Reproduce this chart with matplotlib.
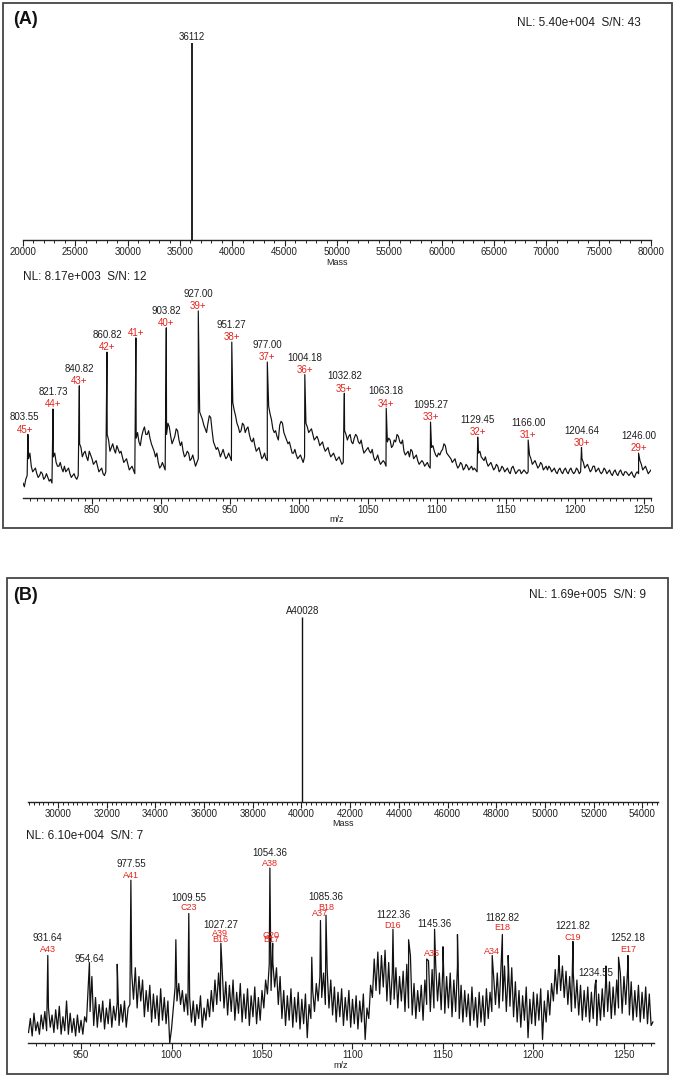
import numpy as np
import matplotlib
matplotlib.use("Agg")
import matplotlib.pyplot as plt
from matplotlib.patches import Rectangle
from matplotlib.ticker import FixedLocator, FuncFormatter
from matplotlib import transforms, font_manager

# ---------------- data ----------------
# Panel A, deconvoluted mass spectrum
a_mass_peak = [36112]
a_mass_int = [100]
a_mass_text = ["36112"]

# Panel A, m/z spectrum: charge-state series
a_peak_mz = [803.55, 821.73, 840.82, 860.82, 881.79, 903.82, 927.00, 951.27, 977.00,
             1004.18, 1032.82, 1063.18, 1095.27, 1129.45, 1166.00, 1204.64, 1246.00]
a_peak_int = [34, 47.6, 60, 78, 85.6, 91, 100, 83.4, 72.7, 66, 56, 48, 40.6, 32.6, 31, 27, 24]
a_peak_text = ["803.55", "821.73", "840.82", "860.82", "", "903.82", "927.00", "951.27", "977.00",
               "1004.18", "1032.82", "1063.18", "1095.27", "1129.45", "1166.00", "1204.64", "1246.00"]
a_charge_text = ["45+", "44+", "43+", "42+", "41+", "40+", "39+", "38+", "37+", "36+", "35+",
                 "34+", "33+", "32+", "31+", "30+", "29+"]

# Panel A, m/z trace between peaks, even m/z (800, 802, ...)
a_base_mz = np.arange(800, 1256, 2)
a_base_int = [
    8, 10, 21, 17, 15, 13, 12, 13, 11, 11,
    10, 22, 19, 17, 16, 17, 15, 13, 12, 11,
    12, 27, 24, 22, 25, 21, 19, 17, 15, 13,
    14, 31, 27, 26, 28, 24, 22, 20, 18, 16,
    15, 32, 30, 33, 38, 34, 32, 27, 22, 19,
    17, 17, 34, 38, 29, 33, 36, 28, 25, 23,
    24, 21, 20, 19, 46, 42, 37, 40, 43, 30,
    26, 25, 24, 23, 22, 22, 51, 44, 38, 36,
    39, 37, 34, 30, 28, 26, 24, 22, 21, 49,
    42, 35, 33, 39, 40, 33, 29, 27, 24, 23,
    22, 21, 22, 38, 36, 34, 32, 31, 29, 27,
    26, 24, 23, 22, 21, 20, 19, 34, 33, 30,
    32, 33, 29, 27, 25, 27, 24, 22, 21, 20,
    19, 19, 30, 31, 28, 30, 33, 29, 25, 24,
    22, 25, 22, 20, 19, 19, 18, 17, 27, 25,
    22, 23, 26, 28, 23, 21, 20, 18, 17, 18,
    16, 17, 16, 15, 15, 24, 22, 20, 19, 18,
    17, 16, 17, 15, 16, 15, 14, 16, 15, 14,
    15, 14, 14, 14, 21, 19, 18, 17, 18, 16,
    15, 16, 15, 14, 15, 14, 15, 14, 15, 14,
    14, 15, 14, 19, 17, 16, 15, 17, 15, 14,
    14, 15, 14, 13, 14, 13, 14, 13, 14, 13,
    13, 12, 13, 13, 18, 16, 15, 14]
# Panel A, m/z trace, odd m/z (801, 803, ...)
a_mid_mz = np.arange(801, 1257, 2)
a_mid_int = [
    6, 12, 24, 14, 16, 11, 14, 10, 13, 9,
    8, 24, 17, 19, 14, 14, 16, 11, 13, 10,
    29, 22, 25, 20, 23, 18, 20, 14, 16, 12,
    34, 25, 29, 24, 26, 25, 19, 21, 15, 17,
    13, 35, 28, 36, 34, 36, 29, 25, 24, 16,
    19, 15, 40, 33, 31, 37, 31, 30, 22, 25,
    20, 23, 17, 21, 44, 39, 35, 44, 36, 28,
    27, 22, 26, 21, 24, 20, 47, 40, 35, 40,
    35, 38, 31, 32, 25, 27, 21, 24, 20, 45,
    37, 36, 31, 41, 35, 31, 30, 24, 26, 21,
    23, 19, 40, 35, 37, 31, 33, 28, 30, 25,
    27, 22, 24, 20, 22, 18, 36, 31, 34, 29,
    34, 30, 31, 24, 26, 25, 26, 20, 23, 18,
    20, 17, 32, 27, 31, 34, 30, 31, 23, 25,
    26, 21, 23, 18, 20, 17, 19, 16, 28, 23,
    24, 25, 29, 24, 22, 19, 21, 16, 19, 15,
    18, 15, 17, 16, 14, 25, 21, 22, 17, 19,
    15, 18, 14, 17, 14, 16, 13, 17, 13, 15,
    13, 15, 13, 23, 18, 20, 16, 19, 15, 17,
    17, 14, 16, 13, 16, 13, 16, 13, 16, 13,
    16, 13, 21, 16, 18, 14, 17, 14, 16, 13,
    16, 13, 15, 12, 15, 12, 15, 12, 14, 12,
    14, 11, 14, 20, 15, 17, 13, 15]

# Panel B, deconvoluted mass spectrum
b_mass_peak = [40028]
b_mass_int = [100]
b_mass_text = ["A40028"]

# Panel B, m/z spectrum peaks
b_peak_mz = [931.64, 954.64, 970.0, 977.55, 1002.4, 1009.55, 1027.27, 1054.36, 1055.9,
             1077.5, 1082.3, 1085.36, 1122.36, 1131.0, 1141.0, 1145.36, 1150.0, 1158.0,
             1177.2, 1182.82, 1186.0, 1214.0, 1221.82, 1234.55, 1240.0, 1247.0, 1252.18]
b_peak_int = [50, 46, 45, 93, 59, 74, 57, 100, 57,
              49, 70, 73, 65, 59, 48, 65, 55, 62,
              50, 62, 50, 50, 58, 36, 44, 49, 50]

# Panel B, noisy trace: low / high values per 2 m/z (lows at 921,923,..., highs at 922,924,...)
b_noise_lo = [
    6, 4, 7, 5, 8, 7, 9, 6, 8, 5,
    7, 5, 6, 4, 6, 5, 12, 18, 10, 9,
    12, 8, 11, 9, 13, 10, 12, 9, 22, 25,
    20, 24, 15, 18, 12, 14, 10, 13, 11, 0,
    20, 24, 22, 18, 16, 12, 10, 14, 9, 13,
    15, 18, 22, 24, 20, 16, 18, 13, 17, 12,
    14, 10, 15, 11, 13, 20, 28, 30, 32, 22,
    14, 10, 13, 9, 12, 8, 11, 3, 14, 18,
    24, 26, 22, 20, 16, 12, 15, 10, 13, 9,
    11, 8, 12, 2, 14, 26, 30, 28, 32, 24,
    22, 25, 20, 24, 18, 20, 16, 14, 18, 13,
    22, 18, 20, 24, 19, 17, 20, 15, 18, 14,
    12, 15, 10, 13, 9, 12, 10, 14, 18, 22,
    20, 24, 18, 21, 15, 12, 9, 13, 3, 11,
    10, 13, 2, 12, 16, 24, 28, 30, 26, 22,
    18, 20, 16, 13, 15, 12, 14, 10, 13, 15,
    18, 14, 16, 20, 17, 22, 16, 13, 15, 12,
    14, 11, 10]
b_noise_hi = [
    14, 17, 12, 16, 18, 20, 16, 19, 21, 15,
    24, 17, 14, 16, 13, 15, 33, 38, 26, 22,
    24, 20, 25, 21, 23, 22, 24, 20, 40, 43,
    38, 36, 30, 33, 28, 27, 31, 26, 24, 8,
    32, 34, 30, 28, 26, 24, 22, 27, 20, 25,
    30, 36, 40, 42, 35, 33, 36, 29, 34, 28,
    31, 27, 32, 26, 30, 36, 45, 46, 43, 38,
    30, 27, 31, 26, 29, 25, 28, 22, 30, 34,
    38, 40, 42, 36, 32, 29, 31, 26, 30, 25,
    27, 24, 28, 20, 33, 48, 52, 50, 53, 46,
    40, 43, 38, 41, 45, 50, 34, 30, 33, 36,
    47, 42, 44, 40, 45, 38, 40, 36, 44, 33,
    30, 28, 32, 26, 29, 27, 31, 29, 38, 40,
    42, 44, 40, 43, 35, 30, 27, 32, 25, 29,
    28, 31, 24, 30, 34, 42, 46, 44, 41, 38,
    40, 36, 33, 30, 32, 29, 33, 28, 31, 38,
    35, 32, 36, 40, 38, 42, 35, 30, 33, 29,
    32, 28, 12]

b_num_text = ["931.64", "954.64", "977.55", "1009.55", "1027.27", "1054.36", "1085.36",
              "1122.36", "1145.36", "1182.82", "1221.82", "1234.55", "1252.18"]
b_num_mz = [931.64, 954.64, 977.55, 1009.55, 1027.27, 1054.36, 1085.36,
            1122.36, 1145.36, 1182.82, 1221.82, 1234.55, 1252.18]
b_ion_text = ["A43", "A41", "C23", "A39", "B16", "A38", "G20", "B17", "A37", "B18",
              "D16", "A35", "A34", "E18", "C19", "E17"]
b_ion_mz = [931.64, 977.55, 1009.55, 1026.8, 1026.8, 1054.36, 1055.1, 1055.1, 1082.3,
            1085.36, 1122.36, 1143.7, 1177.2, 1182.82, 1221.82, 1252.18]

nl_texts = ["NL: 5.40e+004  S/N: 43", "NL: 8.17e+003  S/N: 12",
            "NL: 1.69e+005  S/N: 9", "NL: 6.10e+004  S/N: 7"]

# ---------------- layout (pixels) ----------------
W, H = 677, 1077
b_num_ypx = [938, 959, 864, 898, 925, 853, 897, 915, 924, 918, 926, 973, 938]
b_ion_ypx = [950, 876, 908, 934, 939, 863, 935, 939, 914, 907, 925, 953, 951, 928, 937, 950]

RED = "#e3241c"
TXT = "#1e1e1e"

names = {f.name for f in font_manager.fontManager.ttflist}
NARROW = "Liberation Sans Narrow" if "Liberation Sans Narrow" in names else "Liberation Sans"
plt.rcParams["font.family"] = ["Liberation Sans", "DejaVu Sans"]

fig = plt.figure(figsize=(W / 100, H / 100), dpi=100)


def add_ax(l, t, r, b):
    return fig.add_axes([l / W, 1 - b / H, (r - l) / W, (b - t) / H])


def style(ax, major, minor, fs, family):
    for s in ["left", "top", "right"]:
        ax.spines[s].set_visible(False)
    ax.spines["bottom"].set_linewidth(1.0)
    ax.spines["bottom"].set_color("#222222")
    ax.set_yticks([])
    ax.xaxis.set_major_locator(FixedLocator(major))
    ax.xaxis.set_minor_locator(FixedLocator(minor))
    ax.xaxis.set_major_formatter(FuncFormatter(lambda v, p: f"{v:.0f}"))
    ax.tick_params(axis="x", which="major", direction="out", length=4.3, width=0.8,
                   pad=1.0, labelsize=fs, colors="#222222")
    ax.tick_params(axis="x", which="minor", direction="out", length=2.4, width=0.7,
                   colors="#222222")
    for lab in ax.get_xticklabels():
        lab.set_family(family)
    ax.patch.set_alpha(0)


def fig_text(x, y, s, **kw):
    fig.text(x / W, 1 - y / H, s, **kw)


# panel boxes
fig.add_artist(Rectangle((3 / W, 1 - 528 / H), 669 / W, 525 / H, transform=fig.transFigure,
                         fill=False, ec="#444444", lw=1.3))
fig.add_artist(Rectangle((7 / W, 1 - 1074 / H), 661 / W, 496 / H, transform=fig.transFigure,
                         fill=False, ec="#444444", lw=1.3))

# ---- A top: mass ----
ax1 = add_ax(23, 30, 651, 240)
ax1.set_xlim(20000, 80000)
ax1.set_ylim(0, 100 * 210 / 197)
ax1.vlines(a_mass_peak, 0, a_mass_int, color="#111111", lw=1.3)
for m, h, t in zip(a_mass_peak, a_mass_int, a_mass_text):
    ax1.annotate(t, (m, h), xytext=(0, 4.3), textcoords="offset points", ha="center",
                 va="center", fontsize=7, color=TXT)
style(ax1, list(range(20000, 80001, 5000)), list(range(20000, 80001, 1000)), 7, NARROW)

# ---- A bottom: m/z ----
ax2 = add_ax(23, 300, 651, 498)
ax2.set_xlim(800, 1255)
ax2.set_ylim(0, 100 * 198 / 187)
x = np.concatenate([a_base_mz, a_mid_mz, a_peak_mz])
y = np.concatenate([a_base_int, a_mid_int, a_peak_int])
o = np.argsort(x, kind="stable")
ax2.plot(x[o], y[o], color="#111111", lw=0.85)
for m, h, t, c in zip(a_peak_mz, a_peak_int, a_peak_text, a_charge_text):
    dx = -2.2 if m < 805 else 0
    if t:
        ax2.annotate(t, (m, h), xytext=(dx, 12.2), textcoords="offset points", ha="center",
                     va="center", fontsize=7, color=TXT)
    ax2.annotate(c, (m, h), xytext=(dx, 3.4), textcoords="offset points", ha="center",
                 va="center", fontsize=7, color=RED)
style(ax2, list(range(850, 1251, 50)), list(range(805, 1256, 5)), 7, "Liberation Sans")

# ---- B top: mass ----
ax3 = add_ax(28, 600, 658, 802)
ax3.set_xlim(28768, 54641)
ax3.set_ylim(0, 100 * 202 / 185)
ax3.vlines(b_mass_peak, 0, b_mass_int, color="#111111", lw=1.0)
for m, h, t in zip(b_mass_peak, b_mass_int, b_mass_text):
    ax3.annotate(t, (m, h), xytext=(0, 4.3), textcoords="offset points", ha="center",
                 va="center", fontsize=7, color=TXT)
style(ax3, list(range(30000, 54001, 2000)), list(range(28800, 54601, 200)), 7, "Liberation Sans")

# ---- B bottom: m/z ----
ax4 = add_ax(28, 850, 654, 1043)
ax4.set_xlim(920.7, 1266.6)
ax4.set_ylim(0, 193 / 1.75)
nx = np.arange(921, 1267)
ny = np.empty(len(nx))
ny[0::2] = b_noise_lo
ny[1::2] = b_noise_hi
x = np.concatenate([nx, b_peak_mz])
y = np.concatenate([ny, b_peak_int])
o = np.argsort(x, kind="stable")
ax4.plot(x[o], y[o], color="#111111", lw=0.9)
tr = transforms.blended_transform_factory(ax4.transData, fig.transFigure)
for t, m, yp in zip(b_num_text, b_num_mz, b_num_ypx):
    ax4.text(m, 1 - yp / H, t, transform=tr, ha="center", va="center", fontsize=7, color=TXT)
for t, m, yp in zip(b_ion_text, b_ion_mz, b_ion_ypx):
    ax4.text(m, 1 - yp / H, t, transform=tr, ha="center", va="center", fontsize=6.5, color=RED)
style(ax4, list(range(950, 1251, 50)), list(range(925, 1266, 5)), 7, "Liberation Sans")

# ---- texts ----
fig_text(13, 20, "(A)", fontsize=13, fontweight="bold", ha="left", va="center", color="#111111")
fig_text(13, 595, "(B)", fontsize=13, fontweight="bold", ha="left", va="center", color="#111111")
fig_text(517, 23, nl_texts[0], fontsize=8.5, ha="left", va="center", color=TXT)
fig_text(23, 277, nl_texts[1], fontsize=8.5, ha="left", va="center", color=TXT)
fig_text(529, 595, nl_texts[2], fontsize=8.5, ha="left", va="center", color=TXT)
fig_text(26, 836, nl_texts[3], fontsize=8.5, ha="left", va="center", color=TXT)
fig_text(337, 263, "Mass", fontsize=6.5, ha="center", va="center", color=TXT, family=NARROW)
fig_text(337, 520, "m/z", fontsize=6.5, ha="center", va="center", color=TXT, family=NARROW)
fig_text(343, 823, "Mass", fontsize=6.5, ha="center", va="center", color=TXT, family=NARROW)
fig_text(341, 1065, "m/z", fontsize=6.5, ha="center", va="center", color=TXT, family=NARROW)

fig.savefig("out.png", dpi=100)
